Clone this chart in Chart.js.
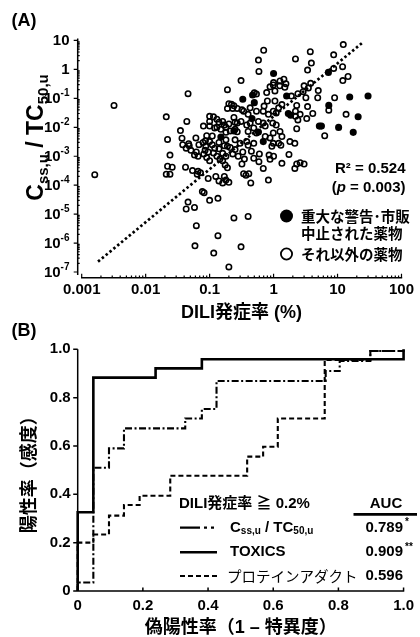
<!DOCTYPE html>
<html>
<head>
<meta charset="utf-8">
<title>DILI発症率とCss,u/TC50,u</title>
<script src="https://cdn.jsdelivr.net/npm/chart.js@4.4.1/dist/chart.umd.min.js"></script>
<style>
  body { margin: 0; background: #fff; }
  #wrap { position: relative; width: 420px; height: 637px; }
  canvas { position: absolute; left: 0; }
</style>
</head>
<body>
<div id="wrap">
  <canvas id="scatter" width="420" height="322" style="top:0px"></canvas>
  <canvas id="roc" width="420" height="315" style="top:322px"></canvas>
</div>
<script>
// (A) DILI rate (%) vs Css,u / TC50,u
var warnedDrugs = [
  [0.33, 0.093], [0.47, 0.13], [0.50, 0.071], [1.0, 0.72], [7.2, 0.79], [1.6, 0.12],
  [15.5, 0.111], [30, 0.12], [1.7, 0.030], [1.85, 0.026], [0.46, 0.020], [0.24, 0.0075],
  [0.58, 0.0069], [0.69, 0.0032], [0.15, 0.0046], [5.2, 0.011], [5.6, 0.011], [7.3, 0.057],
  [10.4, 0.0099], [17.6, 0.0067], [21, 0.023]
];
var otherDrugs = [
  [0.0016, 2.3e-4], [0.0032, 0.057],
  [0.046, 0.145], [0.021, 0.023], [0.044, 0.016], [0.035, 0.0077], [0.022, 0.0038], [0.024, 0.0011],
  [0.022, 4.5e-4], [0.026, 4.2e-4], [0.021, 2.4e-4], [0.024, 2.4e-4],
  [0.042, 4.2e-4], [0.054, 3.2e-4], [0.066, 3.0e-4], [0.072, 2.7e-4], [0.064, 2.4e-4],
  [0.037, 0.0042], [0.047, 0.0027], [0.038, 0.0025], [0.043, 0.0019], [0.048, 0.0023], [0.062, 0.0014],
  [0.051, 0.0016], [0.058, 0.0011], [0.066, 0.0010],
  [0.061, 0.0043], [0.068, 0.0025], [0.079, 0.0030], [0.086, 0.0034], [0.10, 0.0032], [0.09, 0.0051],
  [0.11, 0.005], [0.14, 0.003], [0.17, 0.0023], [0.18, 0.0037],
  [0.087, 0.0022], [0.11, 0.0025], [0.12, 0.0019], [0.19, 0.0022],
  [0.081, 0.0012], [0.090, 9e-4], [0.10, 7e-4], [0.115, 0.0013], [0.085, 0.0016], [0.095, 0.0014],
  [0.13, 0.0010], [0.145, 8e-4], [0.16, 7e-4], [0.175, 5e-4], [0.19, 4e-4],
  [0.16, 0.00126], [0.18, 0.0010], [0.25, 0.0017],
  [0.14, 0.0018], [0.21, 0.0020], [0.23, 0.0012], [0.28, 0.0010], [0.33, 0.0014], [0.35, 8e-4],
  [0.095, 1.7e-4], [0.125, 2.0e-4], [0.14, 1.4e-4], [0.16, 1.2e-4], [0.18, 1.5e-4], [0.20, 1.25e-4], [0.17, 2.0e-4],
  [0.077, 6e-5], [0.082, 5.5e-5], [0.10, 3e-5], [0.135, 3.5e-5],
  [0.046, 2.6e-5], [0.043, 1.5e-5], [0.058, 1.7e-5],
  [0.24, 7.4e-6], [0.062, 4e-6], [0.135, 1.8e-6], [0.059, 8e-7], [0.116, 4.5e-7], [0.2, 1.5e-7],
  [0.31, 7.4e-7], [0.4, 8.3e-6],
  [0.32, 5.4e-4], [0.49, 8.5e-4], [0.59, 6.5e-4], [0.69, 3.8e-4], [0.88, 7.8e-4], [1.35, 5.7e-4],
  [2.3, 5.4e-4], [2.6, 6e-4], [3.0, 5.4e-4], [2.15, 3.8e-4],
  [0.34, 2.5e-4], [0.37, 2.2e-4], [0.41, 2.5e-4], [0.44, 1.2e-4], [0.83, 1.5e-4],
  [0.45, 0.0015], [0.60, 0.0012], [0.40, 0.0024],
  [1.3, 0.0024], [0.85, 0.0011], [1.0, 0.0010], [1.74, 0.00115],
  [0.08, 0.011], [0.10, 0.011], [0.12, 0.0095], [0.15, 0.0085], [0.18, 0.0067], [0.21, 0.0075], [0.25, 0.0085],
  [0.27, 0.007], [0.13, 0.010], [0.18, 0.010],
  [0.10, 0.024], [0.115, 0.023], [0.13, 0.019], [0.10, 0.016], [0.14, 0.015], [0.16, 0.016],
  [0.17, 0.012], [0.20, 0.013], [0.25, 0.015],
  [0.20, 0.065], [0.22, 0.062], [0.24, 0.055], [0.19, 0.045], [0.23, 0.045], [0.27, 0.045], [0.32, 0.04],
  [0.19, 0.2], [0.31, 0.41], [0.24, 0.022],
  [0.27, 0.014], [0.31, 0.016], [0.38, 0.012], [0.43, 0.014],
  [0.58, 0.016], [0.69, 0.014], [0.74, 0.011], [0.97, 0.014], [1.1, 0.012],
  [0.40, 0.0072], [0.49, 0.0095], [0.54, 0.0064],
  [0.74, 0.0048], [0.88, 0.0043], [0.99, 0.0064], [1.26, 0.0072], [1.35, 0.0048],
  [0.38, 0.0032], [0.49, 0.0028], [0.30, 0.0028], [0.25, 0.0037],
  [0.99, 0.0028], [0.94, 0.0022], [1.2, 0.0028], [1.8, 0.0032], [2.15, 0.0028],
  [0.43, 0.047], [0.34, 0.036], [0.40, 0.028], [0.54, 0.036], [0.71, 0.054], [0.69, 0.036],
  [0.83, 0.028], [0.99, 0.036], [1.1, 0.031], [1.2, 0.047], [1.35, 0.061],
  [0.8, 0.081], [1.05, 0.081],
  [0.5, 0.155], [0.54, 0.14], [0.78, 0.158],
  [0.88, 0.25], [0.99, 0.29], [1.0, 0.35], [1.05, 0.18], [1.25, 0.27], [1.5, 0.24],
  [1.45, 0.46], [1.26, 0.40], [1.56, 0.32],
  [0.70, 4.6], [0.58, 2.1], [0.59, 0.85], [2.2, 2.3], [3.75, 4.1], [3.9, 1.66], [3.4, 0.95],
  [8.7, 3.2], [12.3, 7.2], [8.7, 1.08], [12, 1.24], [12.1, 0.41], [14.6, 0.57],
  [1.9, 0.12], [2.4, 0.145], [2.9, 0.17], [3.0, 0.27], [3.8, 0.33], [3.5, 0.23], [3.2, 0.105],
  [5.0, 0.185], [4.9, 0.105], [9.0, 0.105],
  [2.3, 0.057], [2.2, 0.036], [2.2, 0.024], [2.6, 0.028], [3.4, 0.052], [4.1, 0.030], [3.3, 0.020], [2.4, 0.018],
  [7.3, 0.039], [13.6, 0.028], [6.3, 0.0051], [2.3, 0.0089]
];
// log-log regression line
var fitSlope = 1.83;
var fitIntercept = -1.62;
var fitRange = [0.0018, 24];
var xTicksA = [0.001, 0.01, 0.1, 1, 10, 100];
var yPowersA = [1, 0, -1, -2, -3, -4, -5, -6, -7];

// (B) ROC curves, DILI rate >= 0.2%
var cssFpr = [0, 0, 0.048, 0.096, 0.142, 0.33, 0.381, 0.426, 0.761, 0.804, 0.898, 1.0];
var cssTpr = [0, 0.035, 0.51, 0.59, 0.673, 0.714, 0.753, 0.869, 0.91, 0.952, 0.993, 1.0];
var toxicsFpr = [0, 0, 0.048, 0.239, 0.381, 1.0];
var toxicsTpr = [0, 0.326, 0.883, 0.921, 0.959, 1.0];
var adductFpr = [0, 0, 0.048, 0.096, 0.142, 0.19, 0.284, 0.52, 0.569, 0.614, 0.758, 0.898, 1.0];
var adductTpr = [0, 0.2, 0.234, 0.312, 0.356, 0.394, 0.477, 0.556, 0.597, 0.714, 0.956, 0.993, 1.0];
var aucValues = ['0.789', '0.909', '0.596'];
var aucMarks = ['*', '**', ''];

var latin = "'Liberation Sans', Arial, sans-serif";
var mixed = "'Liberation Sans', 'Noto Sans CJK JP', sans-serif";
var jp = "'Noto Sans CJK JP', sans-serif";
var dashDot = [7, 2.5, 2, 2.5];
var dashed = [5, 3];

Chart.defaults.font.family = mixed;
Chart.defaults.color = '#000';

function pairsToPoints(pairs) {
  return pairs.map(function (p) { return { x: p[0], y: p[1] }; });
}
function curve(xs, ys) {
  return xs.map(function (x, i) { return { x: x, y: ys[i] }; });
}
function fitPoint(x) {
  return { x: x, y: Math.pow(10, fitIntercept + fitSlope * Math.log10(x)) };
}
function drawRuns(ctx, runs, x, y) {
  runs.forEach(function (r) {
    ctx.font = r.font;
    ctx.fillText(r.text, x, y + (r.dy || 0));
    x += ctx.measureText(r.text).width;
  });
}
function runsWidth(ctx, runs) {
  var w = 0;
  runs.forEach(function (r) { ctx.font = r.font; w += ctx.measureText(r.text).width; });
  return w;
}

var decorA = {
  id: 'decorA',
  afterDraw: function (chart) {
    var ctx = chart.ctx, a = chart.chartArea;
    var xs = chart.scales.x, ys = chart.scales.y;
    var axisX = a.left - 4, axisY = a.bottom + 2.7;
    ctx.save();
    ctx.strokeStyle = '#000';
    ctx.lineWidth = 1.5;
    ctx.beginPath();
    ctx.moveTo(axisX, a.top); ctx.lineTo(axisX, a.bottom);
    ctx.moveTo(a.left - 0.7, axisY); ctx.lineTo(a.right + 0.7, axisY);
    ctx.stroke();

    ctx.lineWidth = 1.2;
    ctx.beginPath();
    yPowersA.forEach(function (p) {
      var y = ys.getPixelForValue(Math.pow(10, p));
      ctx.moveTo(axisX - 4, y); ctx.lineTo(axisX, y);
      for (var m = 2; m <= 9; m++) {
        var v = m * Math.pow(10, p);
        if (v < ys.max) {
          var ym = ys.getPixelForValue(v);
          ctx.moveTo(axisX, ym); ctx.lineTo(axisX + 2, ym);
        }
      }
    });
    xTicksA.forEach(function (v, i) {
      var x = xs.getPixelForValue(v);
      ctx.moveTo(x, axisY); ctx.lineTo(x, axisY - 4);
      if (i < xTicksA.length - 1) {
        for (var m = 2; m <= 9; m++) {
          var xm = xs.getPixelForValue(m * v);
          ctx.moveTo(xm, axisY); ctx.lineTo(xm, axisY - 2.2);
        }
      }
    });
    ctx.stroke();

    // y tick labels with superscript powers
    ctx.fillStyle = '#000';
    ctx.textBaseline = 'middle';
    ctx.textAlign = 'left';
    yPowersA.forEach(function (p) {
      var y = ys.getPixelForValue(Math.pow(10, p));
      var base = p === 0 ? '1' : '10';
      var sup = (p === 0 || p === 1) ? '' : String(p);
      var runs = [{ text: base, font: 'bold 15px ' + latin }];
      if (sup) runs.push({ text: sup, font: 'bold 10px ' + latin, dy: -5.5 });
      drawRuns(ctx, runs, 69.5 - runsWidth(ctx, runs), y + 0.5);
    });

    // y axis title
    ctx.save();
    ctx.translate(43, 137.5);
    ctx.rotate(-Math.PI / 2);
    ctx.textBaseline = 'alphabetic';
    var title = [
      { text: 'C', font: 'bold 23px ' + latin },
      { text: 'ss,u', font: 'bold 15px ' + latin, dy: 4.5 },
      { text: ' / TC', font: 'bold 23px ' + latin },
      { text: '50,u', font: 'bold 15px ' + latin, dy: 4.5 }
    ];
    drawRuns(ctx, title, -runsWidth(ctx, title) / 2, 0);
    ctx.restore();

    ctx.textBaseline = 'middle';
    ctx.font = 'bold 18px ' + latin;
    ctx.fillText('(A)', 11.5, 21);

    // statistics
    ctx.font = 'bold 15px ' + latin;
    ctx.textAlign = 'right';
    ctx.fillText('R\u00b2 = 0.524', 405.5, 168.5);
    ctx.textAlign = 'left';
    var pRuns = [
      { text: '(', font: 'bold 15px ' + latin },
      { text: 'p', font: 'italic bold 15px ' + latin },
      { text: ' = 0.003)', font: 'bold 15px ' + latin }
    ];
    drawRuns(ctx, pRuns, 405.5 - runsWidth(ctx, pRuns), 187.5);

    // legend
    ctx.beginPath();
    ctx.arc(286.5, 216, 6.5, 0, Math.PI * 2);
    ctx.fill();
    ctx.beginPath();
    ctx.lineWidth = 1.8;
    ctx.arc(286.5, 254, 5.6, 0, Math.PI * 2);
    ctx.stroke();
    ctx.font = 'bold 14.5px ' + jp;
    ctx.fillText('重大な警告･市販', 301, 216);
    ctx.fillText('中止された薬物', 301, 233);
    ctx.fillText('それ以外の薬物', 301, 254);
    ctx.restore();
  }
};

new Chart(document.getElementById('scatter'), {
  type: 'scatter',
  data: {
    datasets: [
      {
        label: '重大な警告・市販中止された薬物',
        data: pairsToPoints(warnedDrugs),
        pointRadius: 2.7,
        pointBorderWidth: 1.7,
        pointBorderColor: '#000',
        pointBackgroundColor: '#000'
      },
      {
        label: 'それ以外の薬物',
        data: pairsToPoints(otherDrugs),
        pointRadius: 2.7,
        pointBorderWidth: 1.6,
        pointBorderColor: '#000',
        pointBackgroundColor: 'rgba(0,0,0,0)'
      },
      {
        label: 'fit',
        data: [fitPoint(fitRange[0]), fitPoint(fitRange[1])],
        showLine: true,
        borderColor: '#000',
        borderWidth: 2.7,
        borderDash: [2.5, 2.5],
        pointRadius: 0
      }
    ]
  },
  options: {
    responsive: false,
    animation: false,
    devicePixelRatio: 1,
    clip: false,
    layout: { padding: { left: 0, right: 16, top: 38.5, bottom: 0 } },
    plugins: { legend: { display: false }, tooltip: { enabled: false } },
    scales: {
      x: {
        type: 'logarithmic',
        min: 0.001,
        max: 100,
        grid: { display: false, drawTicks: false },
        border: { display: false },
        afterBuildTicks: function (s) { s.ticks = xTicksA.map(function (v) { return { value: v }; }); },
        afterFit: function (s) { s.height = 47; },
        ticks: {
          autoSkip: false, maxRotation: 0, padding: 6,
          font: { size: 15, weight: 'bold', family: latin },
          callback: function (v) { return String(v); }
        },
        title: {
          display: true, text: 'DILI発症率 (%)',
          font: { size: 18, weight: 'bold', lineHeight: 1 },
          padding: { top: 0, bottom: 0 }
        }
      },
      y: {
        type: 'logarithmic',
        min: 7.87e-8,
        max: 11.7,
        grid: { display: false, drawTicks: false },
        border: { display: false },
        ticks: { display: false },
        afterFit: function (s) { s.width = 81.7; }
      }
    }
  },
  plugins: [decorA]
});

var decorB = {
  id: 'decorB',
  afterDraw: function (chart) {
    var ctx = chart.ctx, a = chart.chartArea;
    var xs = chart.scales.x, ys = chart.scales.y;
    ctx.save();
    ctx.strokeStyle = '#000';
    ctx.fillStyle = '#000';
    ctx.lineWidth = 1.5;
    ctx.beginPath();
    ctx.moveTo(a.left, a.top); ctx.lineTo(a.left, a.bottom); ctx.lineTo(a.right + 0.7, a.bottom);
    ys.ticks.forEach(function (t) {
      var y = ys.getPixelForValue(t.value);
      ctx.moveTo(a.left - 4.5, y); ctx.lineTo(a.left, y);
    });
    xs.ticks.forEach(function (t) {
      if (t.value <= 0) return;
      var x = xs.getPixelForValue(t.value);
      ctx.moveTo(x, a.bottom); ctx.lineTo(x, a.bottom - 3.5);
    });
    ctx.stroke();

    ctx.textBaseline = 'middle';
    ctx.textAlign = 'left';
    ctx.font = 'bold 18px ' + latin;
    ctx.fillText('(B)', 11.5, 9.5);

    // legend table
    ctx.font = 'bold 15px ' + mixed;
    ctx.fillText('DILI発症率 ≧ 0.2%', 179, 182);
    ctx.textAlign = 'center';
    ctx.fillText('AUC', 386, 182);
    ctx.lineWidth = 2.7;
    ctx.beginPath();
    ctx.moveTo(353.5, 192.3); ctx.lineTo(417, 192.3);
    ctx.stroke();

    var rows = [205.7, 230.3, 254];
    var dashes = [[20, 4, 3, 4, 3, 4], [], dashed];
    rows.forEach(function (y, i) {
      ctx.setLineDash(dashes[i]);
      ctx.lineWidth = i === 1 ? 2.6 : 2.2;
      ctx.beginPath();
      ctx.moveTo(180, y); ctx.lineTo(217, y);
      ctx.stroke();
    });
    ctx.setLineDash([]);

    ctx.textAlign = 'left';
    drawRuns(ctx, [
      { text: 'C', font: 'bold 15px ' + latin },
      { text: 'ss,u', font: 'bold 10px ' + latin, dy: 4 },
      { text: ' / TC', font: 'bold 15px ' + latin },
      { text: '50,u', font: 'bold 10px ' + latin, dy: 4 }
    ], 230, rows[0]);
    ctx.font = 'bold 15px ' + latin;
    ctx.fillText('TOXICS', 230, rows[1]);
    ctx.font = '14.5px ' + jp;
    ctx.fillText('プロテインアダクト', 227, rows[2]);

    aucValues.forEach(function (v, i) {
      ctx.textAlign = 'right';
      ctx.font = 'bold 15px ' + latin;
      ctx.fillText(v, 403, rows[i]);
      if (aucMarks[i]) {
        ctx.textAlign = 'left';
        ctx.font = 'bold 10px ' + latin;
        ctx.fillText(aucMarks[i], 405, rows[i] - 5);
      }
    });
    ctx.restore();
  }
};

function rocSet(label, fpr, tpr, width, dash) {
  return {
    label: label,
    data: curve(fpr, tpr),
    stepped: 'before',
    borderColor: '#000',
    borderWidth: width,
    borderDash: dash,
    pointRadius: 0,
    fill: false,
    clip: false
  };
}

new Chart(document.getElementById('roc'), {
  type: 'line',
  data: {
    datasets: [
      rocSet('TOXICS', toxicsFpr, toxicsTpr, 2.6, []),
      rocSet('Css,u / TC50,u', cssFpr, cssTpr, 2.1, dashDot),
      rocSet('プロテインアダクト', adductFpr, adductTpr, 2.1, dashed)
    ]
  },
  options: {
    responsive: false,
    animation: false,
    devicePixelRatio: 1,
    layout: { padding: { left: 0, right: 14, top: 27.3, bottom: 0 } },
    plugins: { legend: { display: false }, tooltip: { enabled: false } },
    scales: {
      x: {
        type: 'linear',
        min: 0,
        max: 1,
        grid: { display: false, drawTicks: false },
        border: { display: false },
        afterFit: function (s) { s.height = 46; },
        ticks: {
          stepSize: 0.2, padding: 6, maxRotation: 0,
          font: { size: 15, weight: 'bold', family: latin },
          callback: function (v) { return v === 0 ? '0' : v.toFixed(1); }
        },
        title: {
          display: true, text: '偽陽性率（1 – 特異度）',
          font: { size: 18, weight: 'bold', lineHeight: 1 },
          padding: { top: 0, bottom: 0 }
        }
      },
      y: {
        type: 'linear',
        min: 0,
        max: 1,
        grid: { display: false, drawTicks: false },
        border: { display: false },
        afterFit: function (s) { s.width = 77.7; },
        ticks: {
          stepSize: 0.2, padding: 7,
          font: { size: 15, weight: 'bold', family: latin },
          callback: function (v) { return v === 0 ? '0' : v.toFixed(1); }
        },
        title: {
          display: true, text: '陽性率（感度）',
          font: { size: 18, weight: 'bold', lineHeight: 1 },
          padding: { top: 21, bottom: 0 }
        }
      }
    }
  },
  plugins: [decorB]
});
</script>
</body>
</html>
